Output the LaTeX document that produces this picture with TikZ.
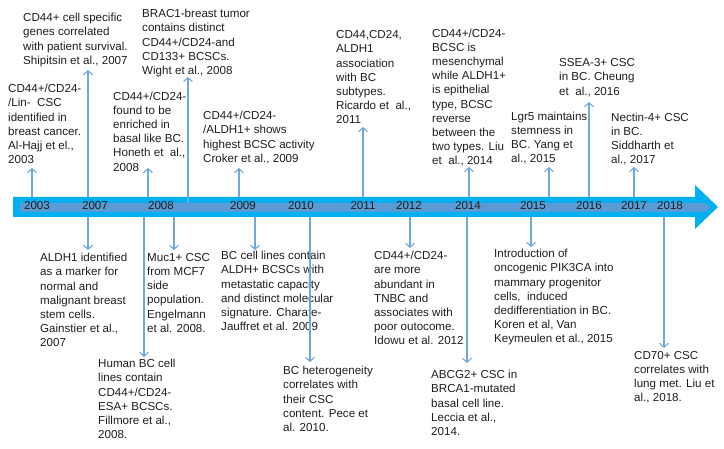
\documentclass[tikz,border=0pt]{standalone}
\usepackage{fontspec}
\setmainfont{Liberation Sans}
\usetikzlibrary{arrows.meta}
\definecolor{barout}{RGB}{0,176,240}
\definecolor{barin}{RGB}{91,155,213}
\definecolor{connc}{RGB}{111,168,220}
\definecolor{txtc}{RGB}{30,30,30}
\tikzset{
  txt/.style={anchor=north west, inner sep=0pt, align=left, text=txtc,
    font=\fontsize{11.6}{14.2}\selectfont},
  yr/.style={anchor=base, inner sep=0pt, text=txtc, font=\fontsize{11.6}{14}\selectfont},
  link/.style={draw=connc, line width=1.1pt, -{Straight Barb[length=4pt,width=9pt]}},
}
\begin{document}
\begin{tikzpicture}[x=1pt,y=-1pt]
\useasboundingbox (0,0) rectangle (724,449);
% timeline bar
\fill[barout] (13,197) -- (695,197) -- (695,185) -- (718,207) -- (695,229) -- (695,217) -- (13,217) -- cycle;
\fill[barin] (20,203) -- (705,203) -- (711,207.5) -- (705,212) -- (20,212) -- cycle;
% years
\node[yr] (y03) at (37,209.5) {2003};
\node[yr] (y07) at (95,209.5) {2007};
\node[yr] (y08) at (161,209.5) {2008};
\node[yr] (y09) at (243,209.5) {2009};
\node[yr] (y10) at (301,209.5) {2010};
\node[yr] (y11) at (363,209.5) {2011};
\node[yr] (y12) at (409,209.5) {2012};
\node[yr] (y14) at (468,209.5) {2014};
\node[yr] (y15) at (533,209.5) {2015};
\node[yr] (y16) at (589,209.5) {2016};
\node[yr] (y17) at (634,209.5) {2017};
\node[yr] (y18) at (670,209.5) {2018};
% upper texts
\node[txt] (t03) at (8,84) {CD44+/CD24-\\/Lin-\ \ CSC\\identified in\\breast cancer.\\Al-Hajj et el.,\\2003};
\node[txt] (t07) at (23,13) {CD44+ cell specific\\genes correlated\\with patient survival.\\Shipitsin et al., 2007};
\node[txt] (t08b) at (142,9) {BRAC1-breast tumor\\contains distinct\\CD44+/CD24-and\\CD133+ BCSCs.\\Wight et al., 2008};
\node[txt] (t08a) at (113,91.5) {CD44+/CD24-\\found to be\\enriched in\\basal like BC.\\Honeth et\ \ al.,\\2008};
\node[txt] (t09) at (203,111) {CD44+/CD24-\\/ALDH1+ shows\\highest BCSC activity\\Croker et al., 2009};
\node[txt] (t11) at (336,30.5) {CD44,CD24,\\ALDH1\\association\\with BC\\subtypes.\\Ricardo et\ \ al.,\\2011};
\node[txt] (t14) at (432,28.5) {CD44+/CD24-\\BCSC is\\mesenchymal\\while ALDH1+\\is epithelial\\type, BCSC\\reverse\\between the\\two types. Liu\\et\ \ al., 2014};
\node[txt] (t15) at (511,111.5) {Lgr5 maintains\\stemness in\\BC. Yang et\\al., 2015};
\node[txt] (t16) at (559,58.5) {SSEA-3+ CSC\\in BC. Cheung\\et\ \ al., 2016};
\node[txt] (t17) at (611,112.5) {Nectin-4+ CSC\\in BC.\\Siddharth et\\al., 2017};
% lower texts
\node[txt] (d07) at (40,253) {ALDH1 identified\\as a marker for\\normal and\\malignant breast\\stem cells.\\Gainstier et al.,\\2007};
\node[txt] (d08m) at (147,253) {Muc1+ CSC\\from MCF7\\side\\population.\\Engelmann\\et al. 2008.};
\node[txt] (d08f) at (98,359) {Human BC cell\\lines contain\\CD44+/CD24-\\ESA+ BCSCs.\\Fillmore et al.,\\2008.};
\node[txt] (d09) at (221,251) {BC cell lines contain\\ALDH+ BCSCs with\\metastatic capacity\\and distinct molecular\\signature. Charafe-\\Jauffret et al. 2009};
\node[txt] (d10) at (283,366) {BC heterogeneity\\correlates with\\their CSC\\content. Pece et\\al. 2010.};
\node[txt] (d12) at (374,251) {CD44+/CD24-\\are more\\abundant in\\TNBC and\\associates with\\poor outocome.\\Idowu et al. 2012};
\node[txt] (d14) at (431,370) {ABCG2+ CSC in\\BRCA1-mutated\\basal cell line.\\Leccia et al.,\\2014.};
\node[txt] (d15) at (494,249) {Introduction of\\oncogenic PIK3CA into\\mammary progenitor\\cells,\ \ induced\\dedifferentiation in BC.\\Koren et al, Van\\Keymeulen et al., 2015};
\node[txt] (d18) at (634,351) {CD70+ CSC\\correlates with\\lung met. Liu et\\al., 2018.};
% connector ends
\coordinate (u03s) at (32,197);   \coordinate (u03e) at (32,168);
\coordinate (u07s) at (88,197);   \coordinate (u07e) at (88,70);
\coordinate (u08as) at (148,197); \coordinate (u08ae) at (148,168);
\coordinate (u08bs) at (188,203); \coordinate (u08be) at (188,77);
\coordinate (u09s) at (239,197);  \coordinate (u09e) at (239,168);
\coordinate (u11s) at (363,197);  \coordinate (u11e) at (363,127);
\coordinate (u14s) at (469,197);  \coordinate (u14e) at (469,167);
\coordinate (u15s) at (549,197);  \coordinate (u15e) at (549,167);
\coordinate (u16s) at (589,197);  \coordinate (u16e) at (589,102);
\coordinate (u17s) at (634,197);  \coordinate (u17e) at (634,167);
\coordinate (l07s) at (88,217);   \coordinate (l07e) at (88,250);
\coordinate (l08fs) at (144,217); \coordinate (l08fe) at (144,357);
\coordinate (l08ms) at (174,217); \coordinate (l08me) at (174,250);
\coordinate (l09s) at (255,217);  \coordinate (l09e) at (255,250);
\coordinate (l10s) at (310,217);  \coordinate (l10e) at (310,362);
\coordinate (l12s) at (410,217);  \coordinate (l12e) at (410,248);
\coordinate (l14s) at (467,217);  \coordinate (l14e) at (467,363);
\coordinate (l15s) at (531,217);  \coordinate (l15e) at (531,247);
\coordinate (l18s) at (664,217);  \coordinate (l18e) at (664,348);
\foreach \a in {u03,u07,u08a,u08b,u09,u11,u14,u15,u16,u17,l07,l08f,l08m,l09,l10,l12,l14,l15,l18}
  \draw[link] (\a s) -- (\a e);
\end{tikzpicture}
\end{document}
